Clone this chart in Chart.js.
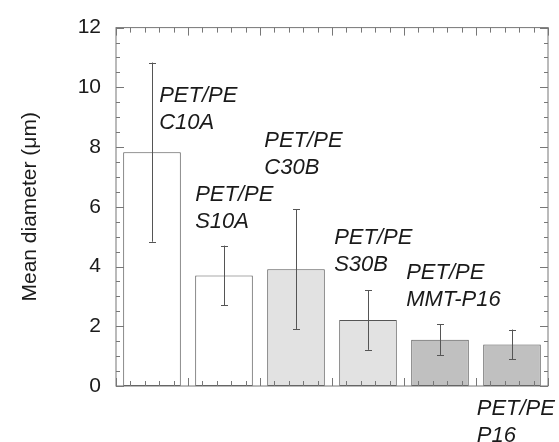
<!DOCTYPE html>
<html>
<head>
<meta charset="utf-8">
<script src="https://cdn.jsdelivr.net/npm/chart.js@4"></script>
<style>
  body { margin: 0; background: #fff; }
  #wrap { width: 559px; height: 442px; }
</style>
</head>
<body>
<div id="wrap"><canvas id="myChart"></canvas></div>
<script>
// values
const samples = ['C10A', 'S10A', 'C30B', 'S30B', 'MMT-P16', 'P16'];
const meanDiameter = [7.83, 3.70, 3.91, 2.21, 1.55, 1.39];
const errDiameter = [3.0, 1.0, 2.0, 1.0, 0.51, 0.5];
const barColors = ['#ffffff', '#ffffff', '#e2e2e2', '#e2e2e2', '#c0c0c0', '#c0c0c0'];

// text labels, anchored in data units (category offset, value of first baseline)
const labelLines = samples.map(s => ['PET/PE', s]);
const labelX = [0.60, 0.10, 0.06, 0.03, 0.03, 0.01];
const labelY = [9.52, 6.19, 7.99, 4.76, 3.59, -0.98];

const ctx = document.getElementById('myChart');

const frameAndTicks = {
  id: 'frameAndTicks',
  afterDatasetsDraw(chart) {
    const { ctx, chartArea: a, scales: { x, y } } = chart;
    ctx.save();
    ctx.strokeStyle = '#777';
    ctx.lineWidth = 1;
    ctx.strokeRect(a.left, a.top, a.right - a.left, a.bottom - a.top);
    ctx.beginPath();
    // y ticks every 0.5, longer every 2
    for (let v = 0; v <= 12; v += 0.5) {
      const py = Math.round(y.getPixelForValue(v)) + 0.5;
      const len = v % 2 === 0 ? 8 : 4;
      ctx.moveTo(a.left, py); ctx.lineTo(a.left + len, py);
      ctx.moveTo(a.right, py); ctx.lineTo(a.right - len, py);
    }
    // x ticks: 5 per category, longer at category boundaries
    const step = (x.getPixelForValue(1) - x.getPixelForValue(0));
    for (let i = 0; i <= samples.length * 5; i++) {
      const px = Math.round(a.left + i * step / 5) + 0.5;
      const len = i % 5 === 0 ? 8 : 5;
      ctx.moveTo(px, a.bottom); ctx.lineTo(px, a.bottom - len);
      ctx.moveTo(px, a.top); ctx.lineTo(px, a.top + len);
    }
    ctx.stroke();

    // error bars
    const meta = chart.getDatasetMeta(0);
    ctx.strokeStyle = '#555';
    ctx.beginPath();
    meta.data.forEach((bar, i) => {
      const px = Math.round(bar.x) + 0.5;
      const hi = y.getPixelForValue(meanDiameter[i] + errDiameter[i]);
      const lo = y.getPixelForValue(meanDiameter[i] - errDiameter[i]);
      ctx.moveTo(px, hi); ctx.lineTo(px, lo);
      ctx.moveTo(px - 3.5, Math.round(hi) + 0.5); ctx.lineTo(px + 3.5, Math.round(hi) + 0.5);
      ctx.moveTo(px - 3.5, Math.round(lo) + 0.5); ctx.lineTo(px + 3.5, Math.round(lo) + 0.5);
    });
    ctx.stroke();

    // sample labels
    ctx.fillStyle = '#1a1a1a';
    ctx.font = 'italic 22px "Liberation Sans", Arial, sans-serif';
    ctx.textBaseline = 'alphabetic';
    ctx.textAlign = 'left';
    labelLines.forEach((lines, i) => {
      const px = x.getPixelForValue(i) - step / 2 + labelX[i] * step;
      const py = y.getPixelForValue(labelY[i]);
      lines.forEach((t, k) => ctx.fillText(t, px, py + k * 27));
    });
    ctx.restore();
  }
};

new Chart(ctx, {
  type: 'bar',
  data: {
    labels: samples,
    datasets: [{
      data: meanDiameter,
      backgroundColor: barColors,
      borderColor: '#555',
      borderWidth: 1,
      borderSkipped: false,
      barPercentage: 0.8,
      categoryPercentage: 1.0
    }]
  },
  options: {
    responsive: true,
    maintainAspectRatio: false,
    animation: false,
    layout: { padding: { top: 13, right: 11, bottom: 56, left: 0 } },
    plugins: { legend: { display: false }, tooltip: { enabled: false } },
    scales: {
      x: {
        ticks: { display: false },
        grid: { display: false, drawTicks: false },
        border: { display: false }
      },
      y: {
        min: 0,
        max: 12,
        afterFit(s) { s.width = 116; },
        ticks: {
          stepSize: 2,
          padding: 15,
          color: '#1a1a1a',
          font: { family: '"Liberation Sans", Arial, sans-serif', size: 21 }
        },
        grid: { display: false, drawTicks: false },
        border: { display: false },
        title: {
          display: true,
          text: 'Mean diameter (μm)',
          color: '#1a1a1a',
          font: { family: '"Liberation Sans", Arial, sans-serif', size: 21 },
          padding: { top: 18, bottom: 0 }
        }
      }
    }
  },
  plugins: [frameAndTicks]
});
</script>
</body>
</html>
